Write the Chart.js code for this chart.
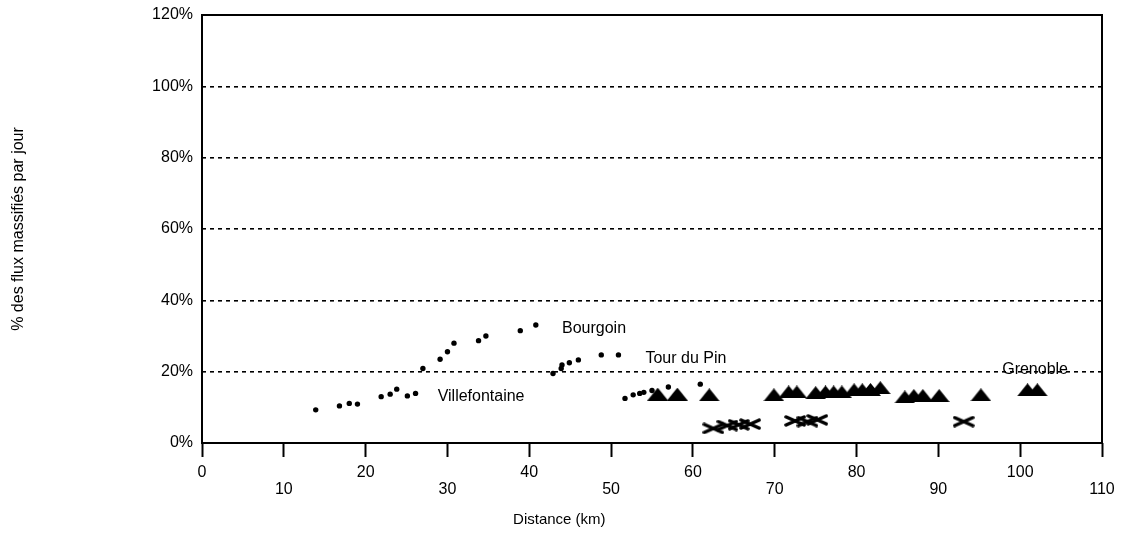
<!DOCTYPE html>
<html>
<head>
<meta charset="utf-8">
<script src="https://cdn.jsdelivr.net/npm/chart.js@4.4.0/dist/chart.umd.min.js"></script>
<style>
  html, body { margin: 0; background: #fff; }
  #wrap { width: 1129px; height: 538px; }
</style>
</head>
<body>
<div id="wrap"><canvas id="chart"></canvas></div>
<script>
// small dots: towns along the Lyon - Grenoble axis
const dotX = [13.9, 16.8, 18.0, 19.0, 21.9, 23.0, 23.8, 25.1, 26.1, 27.0, 29.1, 30.0, 30.8,
  33.8, 34.7, 38.9, 40.8, 42.9, 43.9, 44.0, 44.9, 46.0, 48.8, 50.9,
  51.7, 52.7, 53.5, 54.0, 55.0, 57.0, 60.9];
const dotY = [9.3, 10.4, 11.1, 10.9, 13.0, 13.7, 15.1, 13.2, 13.9, 20.9, 23.5, 25.6, 28.0,
  28.7, 30.0, 31.5, 33.1, 19.5, 20.9, 21.9, 22.5, 23.3, 24.7, 24.7,
  12.5, 13.5, 13.9, 14.2, 14.7, 15.7, 16.5];

// triangles
const triX = [55.7, 58.1, 62.0, 69.9, 71.7, 72.7, 75.0, 76.2, 77.2, 78.2, 79.7, 80.7, 81.7, 82.9,
  85.9, 87.0, 88.1, 90.1, 95.2, 100.9, 102.1];
const triY = [13.7, 13.7, 13.5, 13.5, 14.3, 14.3, 14.1, 14.3, 14.3, 14.3, 14.9, 14.9, 15.0, 15.5,
  12.9, 13.3, 13.3, 13.3, 13.5, 14.9, 14.9];

// crosses
const crossX = [62.5, 64.2, 65.6, 67.0, 72.5, 74.0, 75.2, 93.1];
const crossY = [4.1, 4.9, 5.1, 5.3, 6.2, 6.0, 6.5, 6.0];

const xTicks = [0, 10, 20, 30, 40, 50, 60, 70, 80, 90, 100, 110];
const yTicks = [0, 20, 40, 60, 80, 100, 120];

const cityNames = ['Bourgoin', 'Tour du Pin', 'Villefontaine', 'Grenoble'];
const cityX = [44.0, 54.2, 28.8, 97.8];
const cityY = [32.2, 23.8, 13.0, 20.7];

const FONT = '"Liberation Sans", Arial, sans-serif';

function toPoints(xs, ys) {
  return xs.map((x, i) => ({ x: x, y: ys[i] }));
}

// marker images
function triangleMark() {
  const c = document.createElement('canvas');
  c.width = 21; c.height = 13;
  const g = c.getContext('2d');
  g.fillStyle = '#000';
  g.beginPath();
  g.moveTo(0, 13); g.lineTo(10.5, 0); g.lineTo(21, 13);
  g.closePath();
  g.fill();
  return c;
}

function crossMark() {
  const c = document.createElement('canvas');
  c.width = 22; c.height = 12;
  const g = c.getContext('2d');
  g.strokeStyle = '#000';
  g.lineWidth = 3.5;
  g.lineCap = 'round';
  g.beginPath();
  g.moveTo(2, 2); g.lineTo(20, 10);
  g.moveTo(2, 10); g.lineTo(20, 2);
  g.stroke();
  return c;
}

const extras = {
  id: 'extras',
  afterDatasetsDraw(chart) {
    const { ctx, chartArea: a, scales } = chart;
    ctx.save();
    ctx.strokeStyle = '#000';
    ctx.lineWidth = 2;
    ctx.strokeRect(a.left, a.top, a.right - a.left, a.bottom - a.top);

    ctx.fillStyle = '#000';
    ctx.font = '16px ' + FONT;
    ctx.textAlign = 'left';
    ctx.textBaseline = 'middle';
    cityNames.forEach((n, i) => {
      ctx.fillText(n, scales.x.getPixelForValue(cityX[i]), scales.y.getPixelForValue(cityY[i]));
    });

    ctx.font = '15px ' + FONT;
    ctx.textAlign = 'center';
    ctx.fillText('Distance (km)', a.left + (a.right - a.left) * 0.397, a.bottom + 77);
    ctx.restore();
  }
};

new Chart(document.getElementById('chart'), {
  type: 'scatter',
  data: {
    datasets: [
      {
        data: toPoints(dotX, dotY),
        pointStyle: 'circle',
        pointRadius: 2.7,
        backgroundColor: '#000',
        borderColor: '#000',
        borderWidth: 0
      },
      {
        data: toPoints(triX, triY),
        pointStyle: triangleMark()
      },
      {
        data: toPoints(crossX, crossY),
        pointStyle: crossMark()
      }
    ]
  },
  options: {
    responsive: true,
    maintainAspectRatio: false,
    animation: false,
    layout: { padding: { top: 15, right: 27, bottom: 39, left: 0 } },
    plugins: {
      legend: { display: false },
      tooltip: { enabled: false },
      title: { display: false }
    },
    scales: {
      x: {
        type: 'linear',
        min: 0,
        max: 110,
        afterBuildTicks: s => { s.ticks = xTicks.map(v => ({ value: v })); },
        border: { display: false },
        grid: {
          drawOnChartArea: false,
          drawTicks: true,
          tickLength: 14,
          tickWidth: 2,
          tickColor: '#000',
          color: '#000'
        },
        ticks: {
          color: '#000',
          padding: 7.5,
          maxRotation: 0,
          autoSkip: false,
          font: { family: FONT, size: 16, lineHeight: 1.0625 },
          callback: v => ((v / 10) % 2 === 1 ? ['', String(v)] : String(v))
        },
        afterFit: s => { s.height = 56; }
      },
      y: {
        type: 'linear',
        min: 0,
        max: 120,
        afterBuildTicks: s => { s.ticks = yTicks.map(v => ({ value: v })); },
        border: { display: false, dash: [4, 4] },
        grid: {
          drawTicks: false,
          lineWidth: 1.6,
          color: c => (c.tick && (c.tick.value === 0 || c.tick.value === 120) ? 'rgba(0,0,0,0)' : '#000')
        },
        ticks: {
          color: '#000',
          padding: 9,
          font: { family: FONT, size: 16 },
          callback: v => v + '%'
        },
        title: {
          display: true,
          text: '% des flux massifiés par jour',
          color: '#000',
          font: { family: FONT, size: 16 },
          padding: { top: 9, bottom: 0 }
        },
        afterFit: s => { s.width = 202; s.paddingTop = 0; s.paddingBottom = 0; }
      }
    }
  },
  plugins: [extras]
});
</script>
</body>
</html>
